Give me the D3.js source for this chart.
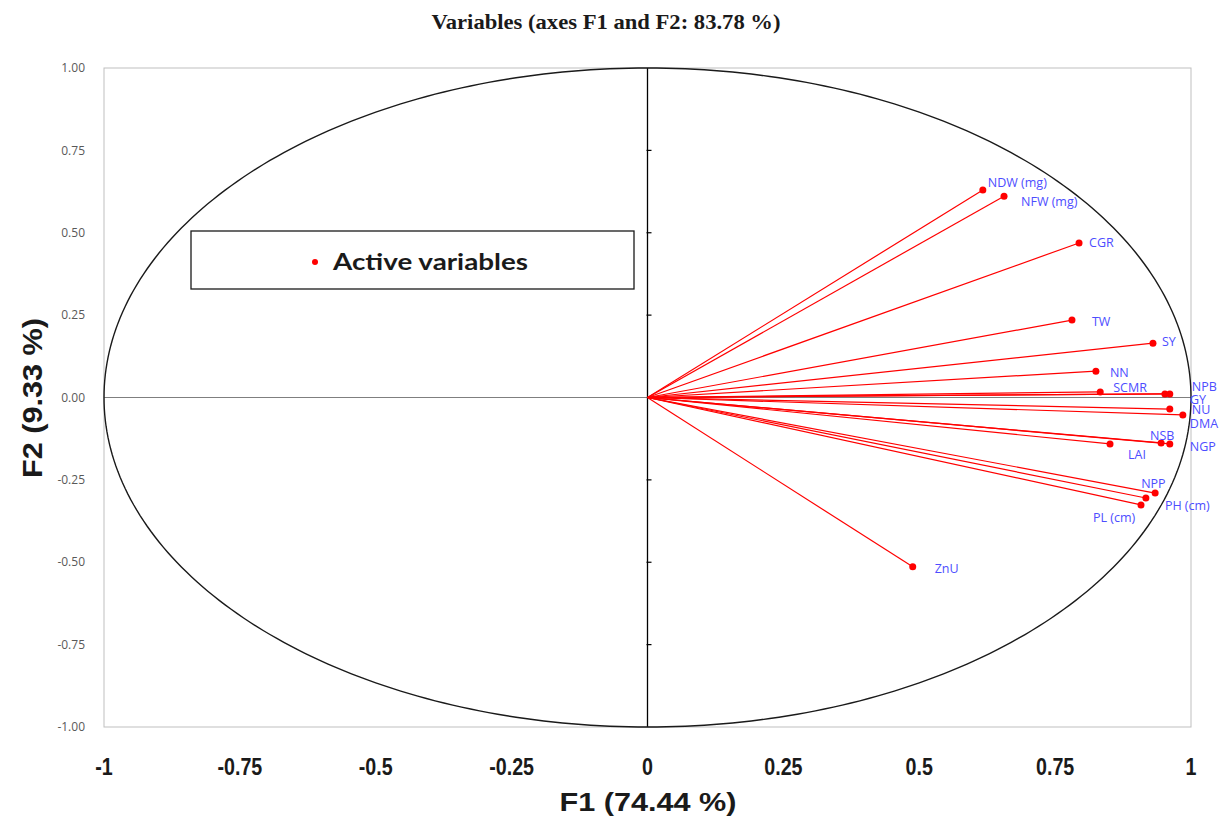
<!DOCTYPE html>
<html><head><meta charset="utf-8">
<script src="https://cdn.jsdelivr.net/npm/d3@7"></script>
<style>body{margin:0;background:#fff}svg{display:block}</style>
</head><body>
<svg id="chart" width="1225" height="819"></svg>
<script>
// ---- data ----
const variables = ["NDW (mg)","NFW (mg)","CGR","TW","SY","NN","SCMR","NPB","GY","NU","DMA","NSB","NGP","LAI","NPP","PH (cm)","PL (cm)","ZnU"];
const f1 = [0.617,0.656,0.794,0.781,0.930,0.825,0.833,0.961,0.952,0.961,0.985,0.945,0.961,0.851,0.934,0.917,0.908,0.488];
const f2 = [0.630,0.611,0.469,0.235,0.165,0.080,0.017,0.011,0.011,-0.035,-0.053,-0.138,-0.141,-0.141,-0.290,-0.305,-0.326,-0.514];
const xTicks = [-1,-0.75,-0.5,-0.25,0,0.25,0.5,0.75,1];
const xTickLabels = ["-1","-0.75","-0.5","-0.25","0","0.25","0.5","0.75","1"];
const yTicks = [1,0.75,0.5,0.25,0,-0.25,-0.5,-0.75,-1];
const yTickLabels = ["1.00","0.75","0.50","0.25","0.00","-0.25","-0.50","-0.75","-1.00"];
const title = "Variables (axes F1 and F2: 83.78 %)";
const xTitle = "F1 (74.44 %)";
const yTitle = "F2 (9.33 %)";
const legendLabel = "Active variables";

// ---- layout (label nudges in pixels) ----
const labelNudge = {
  "NDW (mg)":[5,-7],"NFW (mg)":[17,5],"CGR":[10,0],"TW":[20,2],"SY":[9,-2],"NN":[14,1],
  "SCMR":[13,-4],"NPB":[22,-7],"GY":[25,6],"NU":[22,1],"DMA":[7,9],"NSB":[-11,-7],
  "NGP":[20,3],"LAI":[18,11],"NPP":[-14,-9],"PH (cm)":[19,8],"PL (cm)":[-48,13],"ZnU":[22,2]
};

const svg = d3.select("#chart");
const x = d3.scaleLinear().domain([-1,1]).range([104,1191]);
const y = d3.scaleLinear().domain([-1,1]).range([727,68]);

// frame
svg.append("rect").attr("x",x(-1)).attr("y",y(1)).attr("width",x(1)-x(-1)).attr("height",y(-1)-y(1))
  .attr("fill","none").attr("stroke","#bfbfbf").attr("stroke-width",1);

// zero lines
svg.append("line").attr("x1",x(-1)).attr("x2",x(1)).attr("y1",y(0)).attr("y2",y(0))
  .attr("stroke","#7f7f7f").attr("stroke-width",1);
svg.append("line").attr("x1",x(0)).attr("x2",x(0)).attr("y1",y(1)).attr("y2",y(-1))
  .attr("stroke","#000").attr("stroke-width",1.3);
// ticks on vertical zero axis
svg.selectAll(".vt").data(yTicks.filter(d=>Math.abs(d)<1 && d!==0)).join("line")
  .attr("x1",x(0)-1).attr("x2",x(0)+4).attr("y1",d=>y(d)).attr("y2",d=>y(d))
  .attr("stroke","#000").attr("stroke-width",1.2);

// unit circle (ellipse in pixel space)
const circ = d3.range(0,361).map(a=>[Math.cos(a*Math.PI/180),Math.sin(a*Math.PI/180)]);
svg.append("path").attr("d",d3.line().x(d=>x(d[0])).y(d=>y(d[1]))(circ))
  .attr("fill","none").attr("stroke","#1a1a1a").attr("stroke-width",1.4);

// y tick labels
svg.selectAll(".yl").data(yTicks).join("text")
  .attr("x",85).attr("y",d=>y(d)).attr("dy","0.35em").attr("text-anchor","end")
  .attr("font-family","Open Sans, sans-serif").attr("font-size",12).attr("fill","#595959")
  .text((d,i)=>yTickLabels[i]);

// x tick labels (condensed bold)
svg.selectAll(".xl").data(xTicks).join("text")
  .attr("transform",d=>`translate(${x(d)},775) scale(0.82,1)`).attr("text-anchor","middle")
  .attr("font-family","Liberation Sans, Arial, sans-serif").attr("font-weight","bold")
  .attr("font-size",24).attr("fill","#1a1a1a")
  .text((d,i)=>xTickLabels[i]);

// axis titles
svg.append("text").attr("x",648).attr("y",811).attr("text-anchor","middle")
  .attr("font-family","Liberation Sans, Arial, sans-serif").attr("font-weight","bold").attr("font-size",26)
  .attr("textLength",177).attr("lengthAdjust","spacingAndGlyphs").attr("fill","#1a1a1a").text(xTitle);
svg.append("text").attr("transform","translate(42,398) rotate(-90)").attr("text-anchor","middle")
  .attr("font-family","Liberation Sans, Arial, sans-serif").attr("font-weight","bold").attr("font-size",27)
  .attr("textLength",160).attr("lengthAdjust","spacingAndGlyphs").attr("fill","#1a1a1a").text(yTitle);

// chart title
svg.append("text").attr("x",606).attr("y",29).attr("text-anchor","middle")
  .attr("font-family","Liberation Serif, Times New Roman, serif").attr("font-weight","bold").attr("font-size",21)
  .attr("textLength",349).attr("lengthAdjust","spacingAndGlyphs").attr("fill","#1a1a1a").text(title);

// vectors
const data = variables.map((v,i)=>({name:v,f1:f1[i],f2:f2[i]}));
svg.selectAll(".vec").data(data).join("line")
  .attr("x1",x(0)).attr("y1",y(0)).attr("x2",d=>x(d.f1)).attr("y2",d=>y(d.f2))
  .attr("stroke","#ff0000").attr("stroke-width",1.2);
svg.selectAll(".pt").data(data).join("circle")
  .attr("cx",d=>x(d.f1)).attr("cy",d=>y(d.f2)).attr("r",3.5).attr("fill","#ff0000");
svg.selectAll(".lab").data(data).join("text")
  .attr("x",d=>x(d.f1)+labelNudge[d.name][0]).attr("y",d=>y(d.f2)+labelNudge[d.name][1]).attr("dy","0.35em")
  .attr("font-family","Open Sans, sans-serif").attr("font-size",12.5).attr("fill","#4d4dff")
  .text(d=>d.name);

// legend
svg.append("rect").attr("x",191).attr("y",231).attr("width",443).attr("height",58)
  .attr("fill","#fff").attr("stroke","#1a1a1a").attr("stroke-width",1.3);
svg.append("circle").attr("cx",315).attr("cy",262).attr("r",3).attr("fill","#ff0000");
svg.append("text").attr("x",333).attr("y",262).attr("dy","0.35em")
  .attr("font-family","Lato, Open Sans, sans-serif").attr("font-weight","bold").attr("font-size",23)
  .attr("textLength",195).attr("lengthAdjust","spacingAndGlyphs").attr("fill","#1a1a1a").text(legendLabel);
</script>
</body></html>
